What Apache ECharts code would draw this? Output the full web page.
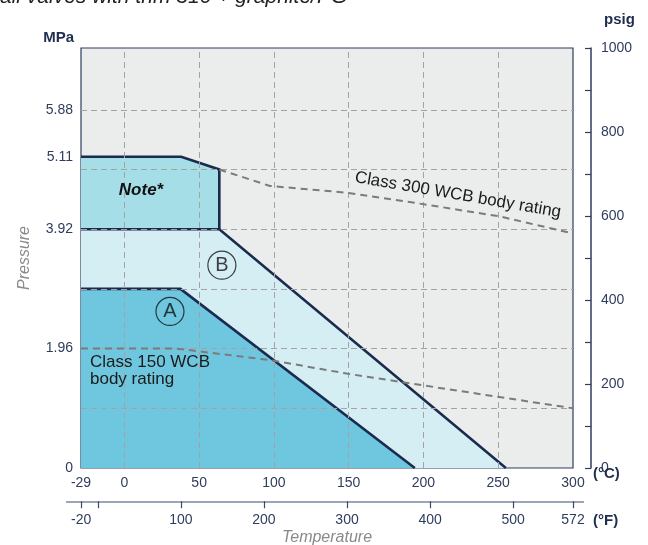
<!DOCTYPE html>
<html><head><meta charset="utf-8">
<script src="https://cdn.jsdelivr.net/npm/echarts@6/dist/echarts.min.js"></script>
<style>html,body{margin:0;padding:0;background:#fff}#c{width:648px;height:545px}</style>
</head><body><div id="c"></div>
<script>
// ---- tick labels / grid values ----
const celsiusTicks = [-29, 0, 50, 100, 150, 200, 250, 300];
const celsiusGrid = [0, 50, 100, 150, 200, 250];
const fahrenheitTicks = [-20, 0, 100, 200, 300, 400, 500, 572];
const fahrenheitLabels = [-20, 100, 200, 300, 400, 500, 572];
const mpaLabels = [0, 1.96, 3.92, 5.11, 5.88];
const mpaGrid = [0.98, 1.96, 2.94, 3.92, 4.90, 5.88];
// ---- regions & ratings: [°C, MPa] ----
const regionNote = [[-29, 5.11], [38, 5.11], [63.5, 4.90], [63.5, 3.92]];
const regionB = [[-29, 3.92], [63.5, 3.92], [255.1, 0]];
const regionA = [[-29, 2.94], [37.5, 2.94], [194.2, 0]];
const class300 = [[63.5, 4.90], [97.4, 4.63], [148.6, 4.52], [197.6, 4.34], [251, 4.13], [300, 3.85]];
const class150 = [[-29, 1.96], [35, 1.96], [98, 1.77], [148.6, 1.55], [198.9, 1.36], [249.5, 1.17], [300, 0.98]];
const regionLabels = [{name: 'A', value: [30.5, 2.57]}, {name: 'B', value: [65.2, 3.33]}];

const FONT = "'Liberation Sans', Arial, sans-serif";
const NAVY = '#2f3d5c';
const OUT = '#1b2b50';
const chart = echarts.init(document.getElementById('c'));

function region(data, fill, z) {
  return {
    type: 'line', data: data, symbol: 'none', z: z,
    xAxisIndex: 0, yAxisIndex: 0,
    lineStyle: {color: OUT, width: 2.6, join: 'miter'},
    areaStyle: {color: fill, opacity: 1},
    silent: true, animation: false
  };
}
function rating(data) {
  return {
    type: 'line', data: data, symbol: 'none', z: 8,
    xAxisIndex: 0, yAxisIndex: 0,
    lineStyle: {color: '#7b7b7b', width: 2, type: [7, 5]},
    silent: true, animation: false
  };
}
const hidden = {axisLine: {show: false}, axisTick: {show: false}, axisLabel: {show: false}, splitLine: {show: false}};

chart.setOption({
  animation: false,
  grid: [
    {left: 81, top: 48, width: 492, height: 420, show: true,
     backgroundColor: '#ebecec', borderColor: NAVY, borderWidth: 1.2},
    {left: 81, top: 501, width: 492, height: 1},
    {left: 591, top: 48, width: 1, height: 420}
  ],
  xAxis: [
    {gridIndex: 0, type: 'value', min: -29, max: 300, position: 'bottom',
     axisLine: {show: false}, axisTick: {show: false}, splitLine: {show: false},
     axisLabel: {customValues: celsiusTicks, color: NAVY, fontSize: 14, fontFamily: FONT, margin: 8}},
    {gridIndex: 1, type: 'value', min: -20.2, max: 572, position: 'bottom',
     axisLine: {show: false}, splitLine: {show: false},
     axisTick: {show: true, customValues: fahrenheitTicks, length: 7, lineStyle: {color: '#3b4a6b', width: 1.2}},
     axisLabel: {customValues: fahrenheitLabels, color: NAVY, fontSize: 14, fontFamily: FONT, margin: 12},
     name: 'Temperature', nameLocation: 'middle', nameGap: 28,
     nameTextStyle: {color: '#8a8a8a', fontStyle: 'italic', fontSize: 16, fontFamily: FONT}},
    Object.assign({gridIndex: 2, type: 'value', min: 0, max: 1}, hidden)
  ],
  yAxis: [
    {gridIndex: 0, type: 'value', min: 0, max: 6.8948, position: 'left',
     axisLine: {show: false}, axisTick: {show: false}, splitLine: {show: false},
     axisLabel: {customValues: mpaLabels, color: NAVY, fontSize: 14, fontFamily: FONT, margin: 8},
     name: 'Pressure', nameLocation: 'middle', nameGap: 48,
     nameTextStyle: {color: '#8a8a8a', fontStyle: 'italic', fontSize: 16, fontFamily: FONT}},
    Object.assign({gridIndex: 1, type: 'value', min: 0, max: 1}, hidden),
    {gridIndex: 2, type: 'value', min: 0, max: 1000, interval: 100, position: 'right',
     axisLine: {show: true, lineStyle: {color: NAVY, width: 1.5}},
     axisTick: {show: true, inside: true, length: 6, lineStyle: {color: NAVY, width: 1.2}},
     splitLine: {show: false},
     axisLabel: {formatter: v => (v % 200 === 0 ? String(v) : ''), color: NAVY, fontSize: 14, fontFamily: FONT, margin: 9}}
  ],
  series: [
    region(regionNote, '#a6dee8', 2),
    region(regionB, '#d4eef3', 3),
    region(regionA, '#6fc7df', 4),
    {type: 'line', data: [], xAxisIndex: 0, yAxisIndex: 0, z: 6, silent: true,
     markLine: {silent: true, symbol: ['none', 'none'], label: {show: false},
       lineStyle: {color: '#a3a3a3', width: 1, type: [6, 4]},
       data: celsiusGrid.map(v => ({xAxis: v})).concat(mpaGrid.map(v => ({yAxis: v})))}},
    rating(class300),
    rating(class150),
    {type: 'scatter', data: regionLabels, xAxisIndex: 0, yAxisIndex: 0, z: 9,
     symbol: 'circle', symbolSize: 28, silent: true,
     itemStyle: {color: 'rgba(0,0,0,0)', borderColor: '#111', borderWidth: 1.2},
     label: {show: true, position: 'inside', formatter: '{b}', color: '#111', fontSize: 20, fontFamily: FONT}}
  ],
  graphic: [
    {type: 'text', left: 0, top: -13, silent: true,
     style: {text: 'all valves with trim 316 + graphite/PG', font: "italic 21px 'Liberation Sans', Arial, sans-serif", fill: '#222'}},
    {type: 'line', silent: true, shape: {x1: 66, y1: 502, x2: 584, y2: 502},
     style: {stroke: '#7b879f', lineWidth: 1.5}},
    {type: 'text', x: 74, y: 38, silent: true,
     style: {text: 'MPa', font: "bold 15px 'Liberation Sans', Arial, sans-serif", fill: '#1f2d50', align: 'right', verticalAlign: 'middle'}},
    {type: 'text', x: 604, y: 20, silent: true,
     style: {text: 'psig', font: "bold 15px 'Liberation Sans', Arial, sans-serif", fill: '#1f2d50', align: 'left', verticalAlign: 'middle'}},
    {type: 'text', x: 593, y: 474, silent: true, z: 30,
     style: {text: '(°C)', font: "bold 15px 'Liberation Sans', Arial, sans-serif", fill: '#1f2d50', verticalAlign: 'middle'}},
    {type: 'text', x: 593, y: 521, silent: true,
     style: {text: '(°F)', font: "bold 15px 'Liberation Sans', Arial, sans-serif", fill: '#1f2d50', verticalAlign: 'middle'}},
    {type: 'text', x: 141, y: 190, silent: true, z: 20,
     style: {text: 'Note*', font: "italic bold 17px 'Liberation Sans', Arial, sans-serif", fill: '#111', align: 'center', verticalAlign: 'middle'}},
    {type: 'text', x: 90, y: 354, silent: true, z: 20,
     style: {text: 'Class 150 WCB\nbody rating', font: "17px 'Liberation Sans', Arial, sans-serif", lineHeight: 17, fill: '#1a1a1a', verticalAlign: 'top'}},
    {type: 'text', x: 458, y: 195, rotation: -0.169, silent: true, z: 20,
     style: {text: 'Class 300 WCB body rating', font: "17px 'Liberation Sans', Arial, sans-serif", fill: '#1a1a1a', align: 'center', verticalAlign: 'middle'}}
  ]
});
</script></body></html>
